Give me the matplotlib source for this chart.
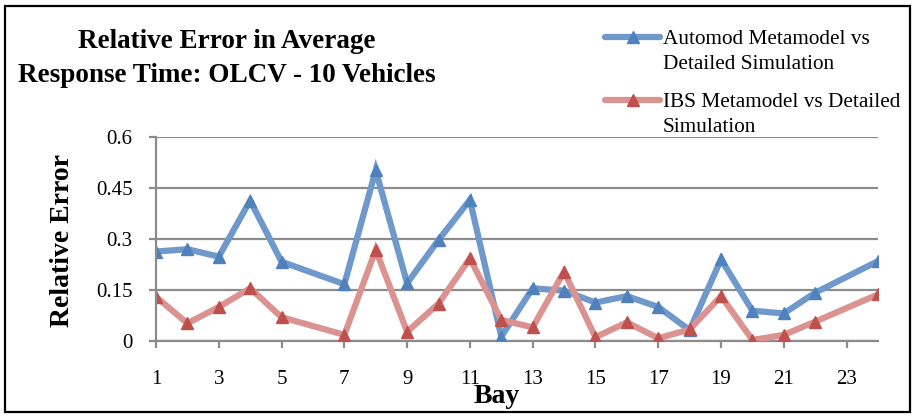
import matplotlib.pyplot as plt
from matplotlib.lines import Line2D
from matplotlib.patches import Rectangle

plt.rcParams['font.family'] = ['Liberation Serif', 'DejaVu Serif']

# bays 6 and 23 have no result, the line just joins over them
bays = [1, 2, 3, 4, 5, 7, 8, 9, 10, 11, 12, 13, 14, 15, 16, 17, 18, 19, 20, 21, 22, 24]
automod = [0.263, 0.270, 0.248, 0.413, 0.233, 0.167, 0.502, 0.170, 0.297, 0.415, 0.013,
           0.155, 0.148, 0.113, 0.132, 0.100, 0.032, 0.240, 0.089, 0.081, 0.142, 0.235]
ibs = [0.130, 0.052, 0.100, 0.155, 0.070, 0.018, 0.268, 0.027, 0.110, 0.243, 0.062,
       0.040, 0.204, 0.011, 0.055, 0.008, 0.034, 0.132, 0.003, 0.018, 0.057, 0.137]

yticks = [0, 0.15, 0.3, 0.45, 0.6]
ylabels = ['0', '0.15', '0.3', '0.45', '0.6']
xticks = [1, 3, 5, 7, 9, 11, 13, 15, 17, 19, 21, 23]

blue_line, blue_mk = '#6f98cb', '#4f81bd'
red_line, red_mk = '#da9391', '#c0504d'
grid_c = '#8c8c8c'

fig = plt.figure(figsize=(9.16, 4.16), dpi=100)
ax = fig.add_axes([0.1703, 0.1803, 0.7882, 0.4904])

ax.plot(bays, automod, color=blue_line, lw=4.5, marker='^', ms=9,
        mfc=blue_mk, mec=blue_mk, solid_joinstyle='miter', zorder=3)
ax.plot(bays, ibs, color=red_line, lw=4.5, marker='^', ms=9,
        mfc=red_mk, mec=red_mk, solid_joinstyle='miter', zorder=3)

ax.set_xlim(1, 24)
ax.set_ylim(0, 0.6)
ax.set_yticks(yticks)
ax.set_yticklabels(ylabels)
ax.set_xticks(xticks)
ax.set_xticklabels([str(t) for t in xticks])

ax.grid(axis='y', color=grid_c, lw=1.6)
ax.set_axisbelow(True)
for s in ['top', 'right']:
    ax.spines[s].set_visible(False)
for s in ['left', 'bottom']:
    ax.spines[s].set_color(grid_c)
    ax.spines[s].set_linewidth(1.6)
ax.spines['left'].set_zorder(4)
ax.tick_params(axis='y', length=5, width=1.6, color=grid_c, labelsize=15, pad=12, direction='out')
ax.tick_params(axis='x', length=5, width=1.6, color=grid_c, labelsize=15, pad=16, direction='out')

# titles and axis names
fig.text(0.248, 0.86, 'Relative Error in Average\nResponse Time: OLCV - 10 Vehicles',
         ha='center', va='center', fontsize=19.5, fontweight='bold', linespacing=1.45)
fig.text(0.068, 0.423, 'Relative Error', ha='center', va='center', rotation=90,
         fontsize=20, fontweight='bold')
fig.text(0.5426, 0.046, 'Bay', ha='center', va='center', fontsize=20, fontweight='bold')

# legend, handle sits level with the first text line
entries = [
    (blue_line, blue_mk, 'Automod Metamodel vs\nDetailed Simulation', 37),
    (red_line, red_mk, 'IBS Metamodel vs Detailed\nSimulation', 100),
]
W, H = 916, 416
for lc, mc, label, yp in entries:
    y = 1 - yp / H
    fig.add_artist(Line2D([605 / W, 660 / W], [y, y], color=lc, lw=4.5,
                          solid_capstyle='round', transform=fig.transFigure))
    fig.add_artist(Line2D([632.5 / W], [y], color=mc, marker='^', ms=9, lw=0,
                          transform=fig.transFigure))
    fig.text(663 / W, 1 - (yp - 7) / H, label, ha='left', va='top', fontsize=15.3,
             linespacing=1.42)

# outer frame
fig.add_artist(Rectangle((5 / W, 4 / H), 905 / W, 406 / H, fill=False, ec='black',
                         lw=1.6, transform=fig.transFigure))

fig.savefig('out.png', dpi=100)
